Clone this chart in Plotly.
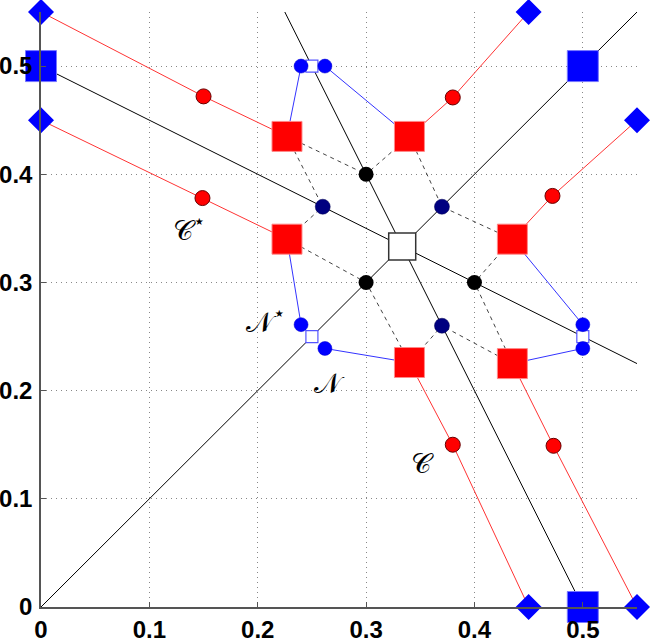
import plotly.graph_objects as go

# black guide lines (start / end)
guide_x0 = [0.0, 0.0, 0.5]
guide_y0 = [0.0, 0.5, 0.0]
guide_x1 = [0.55, 0.55, 0.225]
guide_y1 = [0.55, 0.225, 0.55]

# big blue squares and the centre
big_sq_x = [0.0, 0.5, 0.5]
big_sq_y = [0.5, 0.0, 0.5]
centre_x = [1/3]
centre_y = [1/3]

# red chains: diamond -> circle -> square
dia_x = [0.0, 0.0, 0.45, 0.55, 0.45, 0.55]
dia_y = [0.55, 0.45, 0.55, 0.45, 0.0, 0.0]
rc_x = [0.150, 0.149, 0.380, 0.472, 0.380, 0.473]
rc_y = [0.472, 0.378, 0.471, 0.380, 0.150, 0.149]
rs_x = [0.227, 0.227, 0.340, 0.435, 0.340, 0.435]
rs_y = [0.435, 0.340, 0.435, 0.340, 0.226, 0.225]

# blue N points, each joined to one red square
nc_x = [0.240, 0.240, 0.262, 0.500, 0.262, 0.500]
nc_y = [0.500, 0.261, 0.500, 0.261, 0.239, 0.239]
ns_x = [0.25, 0.25, 0.5]
ns_y = [0.5, 0.25, 0.25]

# black and navy circles on the guide lines
bk_x = [0.3, 0.3, 0.4]
bk_y = [0.4, 0.3, 0.3]
nv_x = [0.26, 0.37, 0.37]
nv_y = [0.37, 0.37, 0.26]

# dashed links: red square -> black circle, red square -> navy circle
link_bk = [0, 1, 0, 2, 1, 2]
link_nv = [0, 0, 1, 1, 2, 2]

labels = ['𝒞<sup>⋆</sup>', '𝒩<sup>⋆</sup>', '𝒩', '𝒞']
label_x = [0.137, 0.208, 0.266, 0.352]
label_y = [0.350, 0.265, 0.207, 0.133]

fig = go.Figure()

for i in range(len(guide_x0)):
    fig.add_trace(go.Scatter(x=[guide_x0[i], guide_x1[i]], y=[guide_y0[i], guide_y1[i]],
                             mode='lines', line=dict(color='black', width=1)))

for i in range(len(rs_x)):
    fig.add_trace(go.Scatter(x=[rs_x[i], bk_x[link_bk[i]]], y=[rs_y[i], bk_y[link_bk[i]]],
                             mode='lines', line=dict(color='#444', width=1, dash='4px,4px')))
    fig.add_trace(go.Scatter(x=[rs_x[i], nv_x[link_nv[i]]], y=[rs_y[i], nv_y[link_nv[i]]],
                             mode='lines', line=dict(color='#444', width=1, dash='4px,4px')))

for i in range(len(dia_x)):
    fig.add_trace(go.Scatter(x=[dia_x[i], rc_x[i], rs_x[i]], y=[dia_y[i], rc_y[i], rs_y[i]],
                             mode='lines', line=dict(color='#ff3333', width=1)))
    fig.add_trace(go.Scatter(x=[nc_x[i], rs_x[i]], y=[nc_y[i], rs_y[i]],
                             mode='lines', line=dict(color='#3333ff', width=1)))

marks = [
    (big_sq_x, big_sq_y, dict(symbol='square', size=31, color='#0000ff',
                              line=dict(color='#7777ff', width=1))),
    (centre_x, centre_y, dict(symbol='square', size=27, color='white',
                              line=dict(color='#333', width=1.5))),
    (dia_x, dia_y, dict(symbol='diamond', size=20, color='#0000ff', line=dict(width=0))),
    (rc_x, rc_y, dict(symbol='circle', size=15, color='#ff0000',
                      line=dict(color='#660000', width=1))),
    (rs_x, rs_y, dict(symbol='square', size=30, color='#ff0000',
                      line=dict(color='#ff8888', width=1))),
    (ns_x, ns_y, dict(symbol='square', size=12, color='white',
                      line=dict(color='#5555ff', width=1.2))),
    (nc_x, nc_y, dict(symbol='circle', size=14, color='#0000ff',
                      line=dict(color='#0000cc', width=0.5))),
    (nv_x, nv_y, dict(symbol='circle', size=15, color='#000080',
                      line=dict(color='#000050', width=0.5))),
    (bk_x, bk_y, dict(symbol='circle', size=15, color='black')),
]
for mx, my, mk in marks:
    fig.add_trace(go.Scatter(x=mx, y=my, mode='markers', marker=mk, cliponaxis=False))

for t, x, y in zip(labels, label_x, label_y):
    fig.add_annotation(x=x, y=y, text=t, showarrow=False,
                       font=dict(family='DejaVu Serif', size=28, color='black'))

axis = dict(range=[0, 0.55], tickvals=[0, 0.1, 0.2, 0.3, 0.4, 0.5],
            ticktext=['0', '0.1', '0.2', '0.3', '0.4', '0.5'],
            showgrid=True, gridcolor='#888', griddash='1px,4px', gridwidth=1,
            showline=True, linecolor='#555', linewidth=1.5,
            ticks='inside', ticklen=5, tickcolor='#555',
            zeroline=False, fixedrange=True, automargin=False,
            tickfont=dict(family='Liberation Sans', size=24, color='black', weight='bold'))

fig.update_layout(width=654, height=638, showlegend=False,
                  paper_bgcolor='white', plot_bgcolor='white',
                  margin=dict(l=41, r=17, t=12, b=31),
                  xaxis=axis, yaxis=axis)
fig.update_yaxes(ticklabelstandoff=2)
fig.update_xaxes(ticklabelstandoff=0)
# drop the default page margin so the figure sits at the window corner
fig.write_html("out.html", config={'displayModeBar': False},
               post_script="document.body.style.margin='0';")
